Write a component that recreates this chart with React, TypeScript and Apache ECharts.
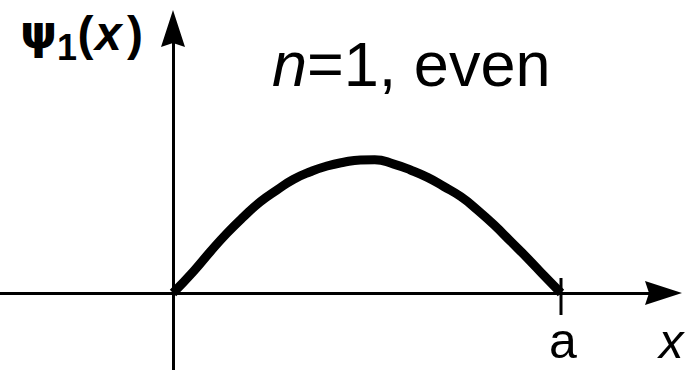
import React, { useEffect, useRef } from "react";
import * as echarts from "echarts";

// Position of x = a on the horizontal axis (curve ends there)
const aValue = [1];
const aLabel = ["a"];

// Wave function ψ1(x) (x in units of a, peak ≈ 1)
const curveX = [0, 0.052, 0.096, 0.139, 0.182, 0.225, 0.268, 0.311, 0.354, 0.397, 0.44, 0.483, 0.52, 0.569, 0.612, 0.656, 0.698, 0.742, 0.785, 0.828, 0.871, 0.914, 0.957, 1.0];
const curveY = [0, 0.159, 0.308, 0.446, 0.569, 0.681, 0.769, 0.849, 0.905, 0.948, 0.976, 0.993, 0.995, 0.962, 0.918, 0.863, 0.795, 0.719, 0.619, 0.507, 0.383, 0.259, 0.127, 0];

// Small tick mark crossing the axis at x = a
const tickY = [0.112, -0.164];

const ARROW = "path://M12,0 L24,37 L12,33 L0,37 Z";

export default function App() {
  const ref = useRef<HTMLDivElement>(null);
  useEffect(() => {
    if (!ref.current) return;
    const chart = echarts.init(ref.current, undefined, { renderer: "svg" });
    const curve = curveX.map((x, i) => [x, curveY[i]]);
    const tick = tickY.map((y) => [aValue[0], y]);
    const txt = (x: number, y: number, text: string, extra: any) => ({
      type: "text",
      x,
      y,
      silent: true,
      style: {
        text,
        fill: "#000",
        align: "left",
        textAlign: "left",
        verticalAlign: "middle",
        textVerticalAlign: "middle",
        ...extra,
      },
    });
    chart.setOption({
      animation: false,
      backgroundColor: "#fff",
      grid: {
        left: 0,
        right: 36.5,
        top: 28.5,
        bottom: 0,
        containLabel: false,
        outerBoundsMode: "none",
      },
      xAxis: {
        type: "value",
        min: -0.44588,
        max: 1.26418,
        axisLine: {
          onZero: true,
          symbol: ["none", ARROW],
          symbolSize: [24, 37],
          lineStyle: { color: "#000", width: 3 },
        },
        axisTick: { show: false },
        splitLine: { show: false },
        axisLabel: { show: false },
      },
      yAxis: {
        type: "value",
        min: -0.5746,
        max: 1.974,
        axisLine: {
          onZero: true,
          symbol: ["none", ARROW],
          symbolSize: [24, 37],
          lineStyle: { color: "#000", width: 3 },
        },
        axisTick: { show: false },
        splitLine: { show: false },
        axisLabel: { show: false },
      },
      series: [
        {
          type: "line",
          data: curve,
          smooth: 0.5,
          showSymbol: false,
          symbol: "none",
          lineStyle: { color: "#000", width: 9, cap: "butt" },
          z: 3,
        },
        {
          type: "line",
          data: tick,
          showSymbol: false,
          symbol: "none",
          lineStyle: { color: "#000", width: 3 },
          z: 2,
        },
      ],
    });
    const ax = chart.convertToPixel({ xAxisIndex: 0 }, aValue[0]) as number;
    chart.setOption({
      graphic: [
        txt(20, 31, "ψ", { fontSize: 47, fontFamily: "DejaVu Sans", fontWeight: "bold" }),
        txt(57, 47.2, "1", { fontSize: 36, fontFamily: "Liberation Sans", fontWeight: "bold" }),
        txt(77.5, 33.3, "(", { fontSize: 48, fontFamily: "Liberation Sans", fontWeight: "bold" }),
        txt(95, 33.3, "x", { fontSize: 48, fontFamily: "Liberation Sans", fontWeight: "bold", fontStyle: "italic" }),
        txt(127, 33.3, ")", { fontSize: 48, fontFamily: "Liberation Sans", fontWeight: "bold" }),
        txt(272, 64.2, "{i|n}=1, even", {
          fontSize: 63,
          fontFamily: "Liberation Sans",
          rich: {
            i: { fontSize: 63, fontFamily: "Liberation Sans", fontStyle: "italic", fill: "#000" },
          },
        }),
        txt(ax + 2, 341, aLabel[0], {
          fontSize: 50,
          fontFamily: "Liberation Sans",
          align: "center",
          textAlign: "center",
        }),
        txt(659, 341, "x", { fontSize: 49, fontFamily: "Liberation Sans", fontStyle: "italic" }),
      ],
    });
    return () => chart.dispose();
  }, []);
  return (
    <div
      ref={ref}
      style={{ position: "fixed", left: 0, top: 0, width: 700, height: 370, background: "#fff" }}
    />
  );
}
